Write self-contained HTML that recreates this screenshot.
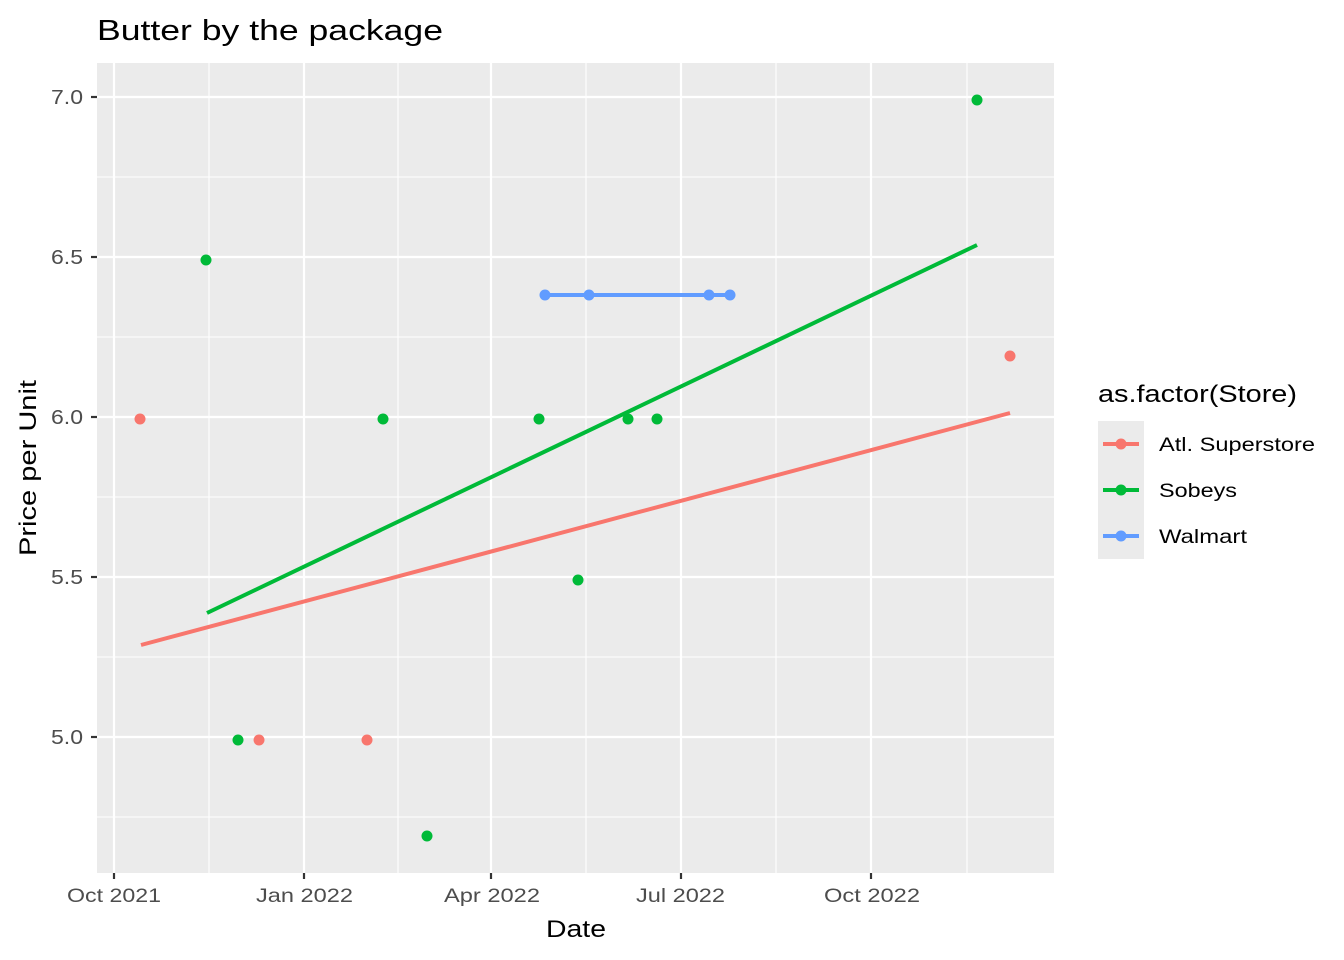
<!DOCTYPE html>
<html><head><meta charset="utf-8"><style>body{margin:0;background:#fff}svg{display:block}</style></head>
<body>
<svg width="1344" height="960" xmlns="http://www.w3.org/2000/svg" font-family="Liberation Sans, sans-serif">
<rect width="1344" height="960" fill="#fff"/>
<rect x="97" y="63" width="957" height="810" fill="#EBEBEB"/>
<g stroke="#fff" stroke-width="1.1">
<line x1="97" x2="1054" y1="177" y2="177"/><line x1="97" x2="1054" y1="337" y2="337"/><line x1="97" x2="1054" y1="497" y2="497"/><line x1="97" x2="1054" y1="657" y2="657"/><line x1="97" x2="1054" y1="817" y2="817"/>
<line y1="63" y2="873" x1="209" x2="209"/><line y1="63" y2="873" x1="398" x2="398"/><line y1="63" y2="873" x1="586" x2="586"/><line y1="63" y2="873" x1="776" x2="776"/><line y1="63" y2="873" x1="967" x2="967"/>
</g>
<g stroke="#fff" stroke-width="2.2">
<line x1="97" x2="1054" y1="97" y2="97"/><line x1="97" x2="1054" y1="257" y2="257"/><line x1="97" x2="1054" y1="417" y2="417"/><line x1="97" x2="1054" y1="577" y2="577"/><line x1="97" x2="1054" y1="737" y2="737"/>
<line y1="63" y2="873" x1="114" x2="114"/><line y1="63" y2="873" x1="304" x2="304"/><line y1="63" y2="873" x1="491" x2="491"/><line y1="63" y2="873" x1="681" x2="681"/><line y1="63" y2="873" x1="871" x2="871"/>
</g>
<g stroke-width="4">
<line x1="141" y1="645" x2="1010" y2="413" stroke="#F8766D"/>
<line x1="207" y1="613" x2="977" y2="245" stroke="#00BA38"/>
<line x1="545" y1="295" x2="730" y2="295" stroke="#619CFF"/>
</g>
<g fill="#F8766D"><circle cx="140" cy="419" r="5.5"/><circle cx="259" cy="740" r="5.5"/><circle cx="367" cy="740" r="5.5"/><circle cx="1010" cy="356" r="5.5"/></g>
<g fill="#00BA38"><circle cx="206" cy="260" r="5.5"/><circle cx="238" cy="740" r="5.5"/><circle cx="383" cy="419" r="5.5"/><circle cx="427" cy="836" r="5.5"/><circle cx="539" cy="419" r="5.5"/><circle cx="578" cy="580" r="5.5"/><circle cx="628" cy="419" r="5.5"/><circle cx="657" cy="419" r="5.5"/><circle cx="977" cy="100" r="5.5"/></g>
<g fill="#619CFF"><circle cx="545" cy="295" r="5.5"/><circle cx="589" cy="295" r="5.5"/><circle cx="709" cy="295" r="5.5"/><circle cx="730" cy="295" r="5.5"/></g>
<g stroke="#333" stroke-width="2.2">
<line x1="91" x2="97" y1="97" y2="97"/><line x1="91" x2="97" y1="257" y2="257"/><line x1="91" x2="97" y1="417" y2="417"/><line x1="91" x2="97" y1="577" y2="577"/><line x1="91" x2="97" y1="737" y2="737"/>
<line y1="873" y2="879" x1="114" x2="114"/><line y1="873" y2="879" x1="304" x2="304"/><line y1="873" y2="879" x1="491" x2="491"/><line y1="873" y2="879" x1="681" x2="681"/><line y1="873" y2="879" x1="871" x2="871"/>
</g>
<g fill="#4D4D4D" font-size="20">
<text x="51" y="104" textLength="32" lengthAdjust="spacingAndGlyphs">7.0</text><text x="51" y="264" textLength="32" lengthAdjust="spacingAndGlyphs">6.5</text><text x="51" y="424" textLength="32" lengthAdjust="spacingAndGlyphs">6.0</text><text x="51" y="584" textLength="32" lengthAdjust="spacingAndGlyphs">5.5</text><text x="51" y="744" textLength="32" lengthAdjust="spacingAndGlyphs">5.0</text>
</g>
<g fill="#4D4D4D" font-size="19.5">
<text x="67" y="902" textLength="94" lengthAdjust="spacingAndGlyphs">Oct 2021</text>
<text x="256" y="902" textLength="97" lengthAdjust="spacingAndGlyphs">Jan 2022</text>
<text x="444" y="902" textLength="96" lengthAdjust="spacingAndGlyphs">Apr 2022</text>
<text x="636" y="902" textLength="89" lengthAdjust="spacingAndGlyphs">Jul 2022</text>
<text x="824" y="902" textLength="96" lengthAdjust="spacingAndGlyphs">Oct 2022</text>
</g>
<text x="546" y="937" font-size="24.5" textLength="60" lengthAdjust="spacingAndGlyphs">Date</text>
<text transform="translate(36,556) rotate(-90)" font-size="24.5" textLength="176" lengthAdjust="spacingAndGlyphs">Price per Unit</text>
<text x="97" y="40" font-size="29" textLength="346" lengthAdjust="spacingAndGlyphs">Butter by the package</text>
<text x="1098" y="402" font-size="24.5" textLength="199" lengthAdjust="spacingAndGlyphs">as.factor(Store)</text>
<rect x="1098" y="421" width="46" height="138" fill="#EBEBEB"/>
<g stroke-width="4"><line x1="1103" x2="1139" y1="444" y2="444" stroke="#F8766D"/><line x1="1103" x2="1139" y1="490" y2="490" stroke="#00BA38"/><line x1="1103" x2="1139" y1="536" y2="536" stroke="#619CFF"/></g>
<circle cx="1121" cy="444" r="5.5" fill="#F8766D"/><circle cx="1121" cy="490" r="5.5" fill="#00BA38"/><circle cx="1121" cy="536" r="5.5" fill="#619CFF"/>
<g font-size="19.5"><text x="1159" y="451" textLength="156" lengthAdjust="spacingAndGlyphs">Atl. Superstore</text><text x="1159" y="497" textLength="78" lengthAdjust="spacingAndGlyphs">Sobeys</text><text x="1159" y="543" textLength="88" lengthAdjust="spacingAndGlyphs">Walmart</text></g>
</svg>
</body></html>
